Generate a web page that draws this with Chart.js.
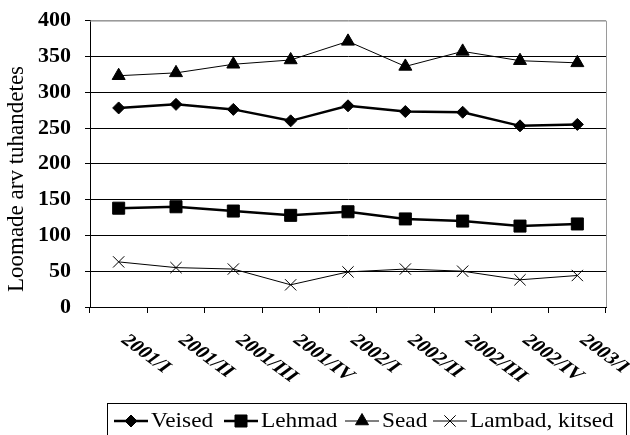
<!DOCTYPE html>
<html>
<head>
<meta charset="utf-8">
<script src="https://cdn.jsdelivr.net/npm/chart.js@4/dist/chart.umd.min.js"></script>
<style>
    body { margin: 0; background: #fff; }
    #wrap { width: 630px; height: 435px; }
</style>
</head>
<body>
<div id="wrap"><canvas id="chart" width="630" height="435"></canvas></div>
<script>
// Quarters on the x axis
const categories = ['2001/I', '2001/II', '2001/III', '2001/IV', '2002/I', '2002/II', '2002/III', '2002/IV', '2003/I'];

// Livestock counts, thousands
const veised = [278, 283, 276, 260, 281, 273, 272, 253, 255];
const lehmad = [138, 140, 134, 128, 133, 123, 120, 113, 116];
const sead = [323, 327, 339, 345, 371, 336, 357, 344, 341];
const lambad = [63, 55, 53, 31, 49, 53, 50, 38, 44];

const yTicks = [0, 50, 100, 150, 200, 250, 300, 350, 400];
const yTitle = 'Loomade arv tuhandetes';
const serif = '"Liberation Serif", "Times New Roman", serif';

const seriesInfo = [
    { label: 'Veised', data: veised, style: 'rectRot', radius: 6, width: 2.5 },
    { label: 'Lehmad', data: lehmad, style: 'rect', radius: 8.5, width: 2.5 },
    { label: 'Sead', data: sead, style: 'triangle', radius: 7.5, width: 1 },
    { label: 'Lambad, kitsed', data: lambad, style: 'crossRot', radius: 8, width: 1 }
];

// legend entry starts (left end of the sample line)
const legendX = [114, 224, 345, 433];

// Plot frame, rotated category labels, axis title and the boxed legend
const decorPlugin = {
    id: 'decor',
    beforeDatasetsDraw(chart) {
        const ctx = chart.ctx;
        const a = chart.chartArea;
        ctx.save();
        ctx.strokeStyle = '#9a9a9a';
        ctx.lineWidth = 1;
        ctx.beginPath();
        ctx.moveTo(a.left, a.top + 0.5);
        ctx.lineTo(a.right + 0.5, a.top + 0.5);
        ctx.lineTo(a.right + 0.5, a.bottom);
        ctx.stroke();
        ctx.restore();
    },
    afterDraw(chart) {
        const ctx = chart.ctx;
        const a = chart.chartArea;
        const xScale = chart.scales.x;

        ctx.save();
        ctx.fillStyle = '#000';

        // category labels, turned clockwise (the original is a little wide)
        ctx.font = 'bold 17px ' + serif;
        ctx.textAlign = 'left';
        ctx.textBaseline = 'alphabetic';
        categories.forEach(function (cat, i) {
            const x = xScale.getPixelForValue(i);
            ctx.save();
            ctx.translate(x + 1, a.bottom + 34);
            ctx.scale(1.35, 1);
            ctx.rotate(Math.PI / 4);
            ctx.fillText(cat, 0, 0);
            ctx.restore();
        });

        // y axis title
        ctx.save();
        ctx.font = '23px ' + serif;
        ctx.textAlign = 'center';
        ctx.textBaseline = 'middle';
        ctx.translate(17, 179);
        ctx.rotate(-Math.PI / 2);
        ctx.fillText(yTitle, 0, 0);
        ctx.restore();

        // legend
        const top = 403;
        const midY = 421;
        ctx.strokeStyle = '#000';
        ctx.lineWidth = 1;
        ctx.strokeRect(107.5, top + 0.5, 519, 40);

        ctx.font = '22px ' + serif;
        ctx.textBaseline = 'alphabetic';
        chart.data.datasets.forEach(function (ds, i) {
            const info = seriesInfo[i];
            const x = legendX[i];
            ctx.strokeStyle = '#000';
            ctx.lineWidth = info.width;
            ctx.beginPath();
            ctx.moveTo(x, midY);
            ctx.lineTo(x + 34, midY);
            ctx.stroke();
            ctx.lineWidth = 1;
            Chart.helpers.drawPoint(ctx, {
                pointStyle: info.style,
                radius: info.radius,
                rotation: 0,
                borderWidth: 1
            }, x + 17, midY);
            ctx.fillStyle = '#000';
            ctx.save();
            ctx.translate(x + 37, 427);
            ctx.scale(1.06, 1);
            ctx.fillText(ds.label, 0, 0);
            ctx.restore();
        });
        ctx.restore();
    }
};

const ctx = document.getElementById('chart').getContext('2d');

new Chart(ctx, {
    type: 'line',
    data: {
        labels: categories,
        datasets: seriesInfo.map(function (s) {
            return {
                label: s.label,
                data: s.data,
                borderColor: '#000',
                backgroundColor: '#000',
                borderWidth: s.width,
                pointStyle: s.style,
                pointRadius: s.radius,
                pointBorderWidth: 1,
                pointBorderColor: '#000',
                pointBackgroundColor: '#000',
                tension: 0
            };
        })
    },
    options: {
        responsive: false,
        animation: false,
        devicePixelRatio: 1,
        layout: {
            padding: { top: 19, right: 24, left: 0, bottom: 0 }
        },
        scales: {
            x: {
                type: 'category',
                offset: true,
                grid: {
                    offset: true,
                    drawOnChartArea: false,
                    drawTicks: true,
                    tickLength: 6,
                    color: '#000'
                },
                border: { color: '#000', width: 1 },
                ticks: { display: false },
                afterFit: function (scale) { scale.height = 128; }
            },
            y: {
                min: 0,
                max: 400,
                afterBuildTicks: function (scale) {
                    scale.ticks = yTicks.map(function (v) { return { value: v }; });
                },
                grid: {
                    color: function (c) { return c.tick && c.tick.value === 400 ? '#9a9a9a' : '#000'; },
                    tickColor: '#000',
                    tickLength: 5
                },
                border: { color: '#000', width: 1 },
                ticks: {
                    color: '#000',
                    padding: 14,
                    font: { family: serif, size: 22, weight: 'bold', lineHeight: 0.6 }
                },
                afterFit: function (scale) { scale.width = 90; }
            }
        },
        plugins: {
            legend: { display: false },
            tooltip: { enabled: false }
        }
    },
    plugins: [decorPlugin]
});
</script>
</body>
</html>
